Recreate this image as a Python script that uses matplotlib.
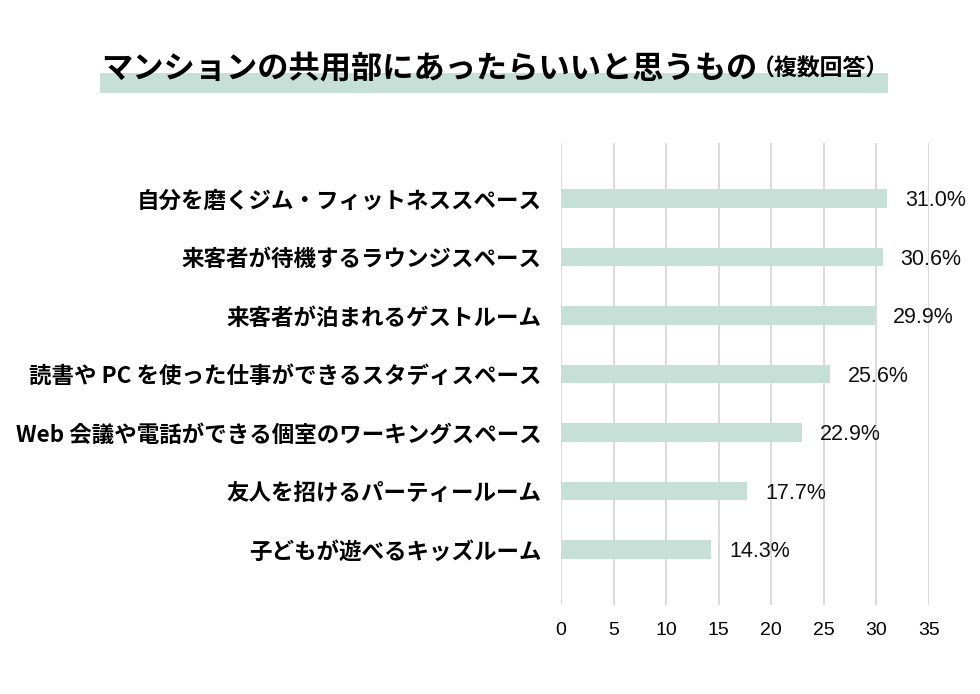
import matplotlib
matplotlib.use('Agg')

import matplotlib.pyplot as plt
from matplotlib.patches import Rectangle

plt.rcParams['font.family'] = ['Noto Sans CJK JP', 'DejaVu Sans']

# Data
categories = [
    "自分を磨くジム・フィットネススペース",
    "来客者が待機するラウンジスペース",
    "来客者が泊まれるゲストルーム",
    "読書や PC を使った仕事ができるスタディスペース",
    "Web 会議や電話ができる個室のワーキングスペース",
    "友人を招けるパーティールーム",
    "子どもが遊べるキッズルーム",
]
values = [31.0, 30.6, 29.9, 25.6, 22.9, 17.7, 14.3]
xticks = [0, 5, 10, 15, 20, 25, 30, 35]

BAR_COLOR = '#c6e0d8'
GRID_COLOR = '#d4d4d4'
LATIN = ['Liberation Sans', 'DejaVu Sans']

fig = plt.figure(figsize=(9.8, 6.94), dpi=100)
fig.patch.set_facecolor('white')

# axes placed in figure pixel coords: x 561..929, y 143..605 (from top)
W, H = 980, 694
ax = fig.add_axes([561 / W, 1 - 605 / H, (929 - 561) / W, (605 - 143) / H])

ypos = list(range(len(categories)))
ax.barh(ypos, values, height=0.31, color=BAR_COLOR, zorder=2)

ax.set_xlim(0, 35)
ax.set_ylim(6.95, -0.95)
ax.set_xticks(xticks)
ax.set_xticklabels([str(t) for t in xticks], fontsize=14, family=LATIN)
ax.tick_params(axis='x', length=0, pad=12)
ax.set_yticks(ypos)
ax.set_yticklabels(categories, fontsize=16.2, fontweight='bold')
ax.tick_params(axis='y', length=0, pad=14)
ax.xaxis.grid(True, color=GRID_COLOR, linewidth=1.2, zorder=0)
ax.set_axisbelow(True)
for s in ax.spines.values():
    s.set_visible(False)

for y, v in zip(ypos, values):
    ax.text(v + 1.7, y + 0.04, f"{v:.1f}%", va='center', ha='left',
            fontsize=15.5, family=LATIN, color='#111111')

# Title with highlight band
fig.patches.append(Rectangle((100 / W, 1 - 93 / H), (888 - 100) / W, 20 / H,
                             transform=fig.transFigure, facecolor=BAR_COLOR,
                             edgecolor='none', zorder=0))
fig.text(101 / W, 1 - 69 / H, "マンションの共用部にあったらいいと思うもの",
         fontsize=22.5, fontweight='bold', va='center', ha='left', zorder=2)
fig.text(889 / W, 1 - 69 / H, "（複数回答）",
         fontsize=16.5, fontweight='bold', va='center', ha='right', zorder=2)

fig.savefig('out.png', dpi=100, facecolor='white')
